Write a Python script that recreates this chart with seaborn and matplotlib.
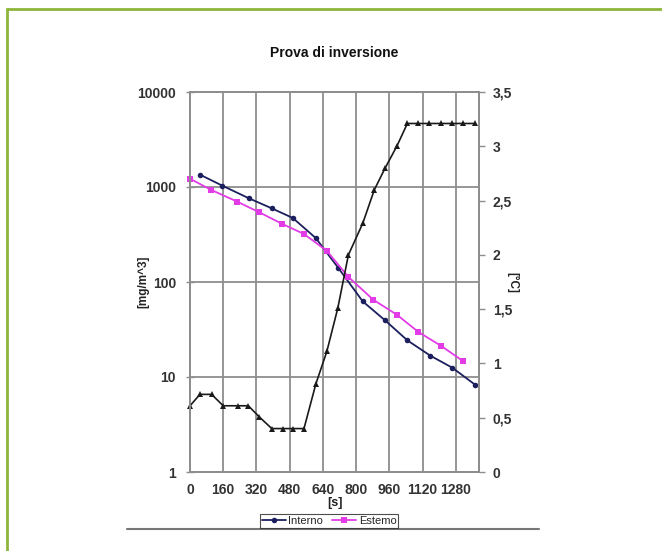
import matplotlib
matplotlib.use("Agg")
import matplotlib.pyplot as plt
from matplotlib.lines import Line2D
import seaborn as sns
import pandas as pd

# Time axis ticks [s]
x_ticks = [0, 160, 320, 480, 640, 800, 960, 1120, 1280]

# Concentration inside the room [mg/m^3]
interno_t = [48, 156, 284, 394, 495, 606, 715, 832, 940, 1047, 1157, 1264, 1373]
interno_c = [1349, 1032, 760, 596, 472, 290, 140, 62.5, 39.4, 24.3, 16.8, 12.5, 8.3]

# Concentration outside [mg/m^3]
esterno_t = [0, 100, 228, 334, 442, 549, 659, 763, 883, 996, 1100, 1209, 1317]
esterno_c = [1222, 937, 700, 541, 411, 320, 213, 113, 65, 45.3, 29.8, 21.3, 14.6]

# Temperature difference [°C]
temp_t = [0, 48, 104, 160, 230, 281, 334, 394, 447, 495, 549, 606, 659, 712,
          763, 832, 888, 940, 996, 1047, 1100, 1153, 1208, 1260, 1316, 1373]
temp_v = [0.61, 0.715, 0.715, 0.61, 0.61, 0.61, 0.507, 0.40, 0.40, 0.40, 0.40,
          0.81, 1.11, 1.51, 2.0, 2.29, 2.60, 2.80, 3.0, 3.21, 3.21, 3.21, 3.21,
          3.21, 3.21, 3.21]

right_ticks = [0, 0.5, 1, 1.5, 2, 2.5, 3, 3.5]
left_ticks = [1, 10, 100, 1000, 10000]

sns.set_style("white")
plt.rcParams["font.family"] = ["Liberation Sans", "DejaVu Sans"]

df_int = pd.DataFrame({"t": interno_t, "c": interno_c})
df_est = pd.DataFrame({"t": esterno_t, "c": esterno_c})
df_tmp = pd.DataFrame({"t": temp_t, "v": temp_v})

fig = plt.figure(figsize=(6.62, 5.51), dpi=100)
ax = fig.add_axes([190 / 662, 1 - 472 / 551, (479 - 190) / 662, (472 - 92) / 551])
ax2 = ax.twinx()

grid_c = "#8e8e8e"
navy = "#1c1f5e"
magenta = "#e23ce6"

sns.lineplot(data=df_int, x="t", y="c", ax=ax, color=navy, marker="o",
             markersize=4, markeredgewidth=0, linewidth=1.3, sort=False, label="Interno")
sns.lineplot(data=df_est, x="t", y="c", ax=ax, color=magenta, marker="s",
             markersize=4.5, markeredgewidth=0, linewidth=1.3, sort=False, label="Estemo")
sns.lineplot(data=df_tmp, x="t", y="v", ax=ax2, color="#1a1a1a", marker="^",
             markersize=4.5, markeredgewidth=0, linewidth=1.2, sort=False)
for a in (ax, ax2):
    for ln in a.get_lines():
        ln.set_clip_on(False)

ax.set_yscale("log")
ax.set_ylim(1, 10000)
ax.set_xlim(0, 1392)
ax2.set_ylim(0, 3.5)

ax.set_xticks(x_ticks)
ax.set_xticklabels([str(v) for v in x_ticks])
ax.set_yticks(left_ticks)
ax.set_yticklabels([str(v) for v in left_ticks])
ax.yaxis.set_minor_locator(matplotlib.ticker.NullLocator())
ax2.set_yticks(right_ticks)
ax2.set_yticklabels([("%g" % v).replace(".", ",") for v in right_ticks])

ax.grid(True, which="major", color=grid_c, linewidth=1.3)
ax2.grid(False)
for a in (ax, ax2):
    for s in a.spines.values():
        s.set_color(grid_c)
        s.set_linewidth(1.3)

for lab in ax.get_xticklabels() + ax.get_yticklabels() + ax2.get_yticklabels():
    lab.set_fontsize(10)
    lab.set_fontweight("bold")
    lab.set_color("#333333")

ax.tick_params(axis="y", direction="inout", length=6, width=1, color=grid_c, pad=7)
ax.tick_params(axis="x", direction="inout", length=6, width=1, color=grid_c, pad=5)
ax2.tick_params(axis="y", direction="out", length=4, width=1, color=grid_c, pad=6)

ax.set_xlabel("[s]", fontsize=9, fontweight="bold", color="#222222", labelpad=0)
ax.set_ylabel("[mg/m^3]", fontsize=8.5, fontweight="bold", color="#222222")
ax.yaxis.set_label_coords(-0.14, 0.5)
ax2.set_ylabel("[°C]", fontsize=8.5, fontweight="bold", color="#222222",
               rotation=270, va="bottom")
ax2.yaxis.set_label_coords(1.095, 0.5)
ax.set_title("Prova di inversione", fontsize=10, fontweight="bold", color="#111111", pad=25)

handles, labels = ax.get_legend_handles_labels()
ax.get_legend().remove()
leg = fig.legend(handles, labels, loc="center", bbox_to_anchor=(329 / 662, 1 - 521 / 551),
                 ncol=2, fontsize=8, frameon=True, fancybox=False, borderpad=0.15,
                 handlelength=2.2, handletextpad=0.2, columnspacing=0.8)
leg.get_frame().set_edgecolor("#222222")
leg.get_frame().set_linewidth(0.8)

# Page frame around the figure
green = "#8db53c"
fig.add_artist(Line2D([7 / 662, 1], [1 - 9 / 551, 1 - 9 / 551], transform=fig.transFigure,
                      color=green, linewidth=2))
fig.add_artist(Line2D([7 / 662, 7 / 662], [0, 1 - 9 / 551], transform=fig.transFigure,
                      color=green, linewidth=2))
fig.add_artist(Line2D([127 / 662, 539 / 662], [1 - 529 / 551, 1 - 529 / 551],
                      transform=fig.transFigure, color="#777777", linewidth=1.5))

fig.savefig("out.png", dpi=100)
